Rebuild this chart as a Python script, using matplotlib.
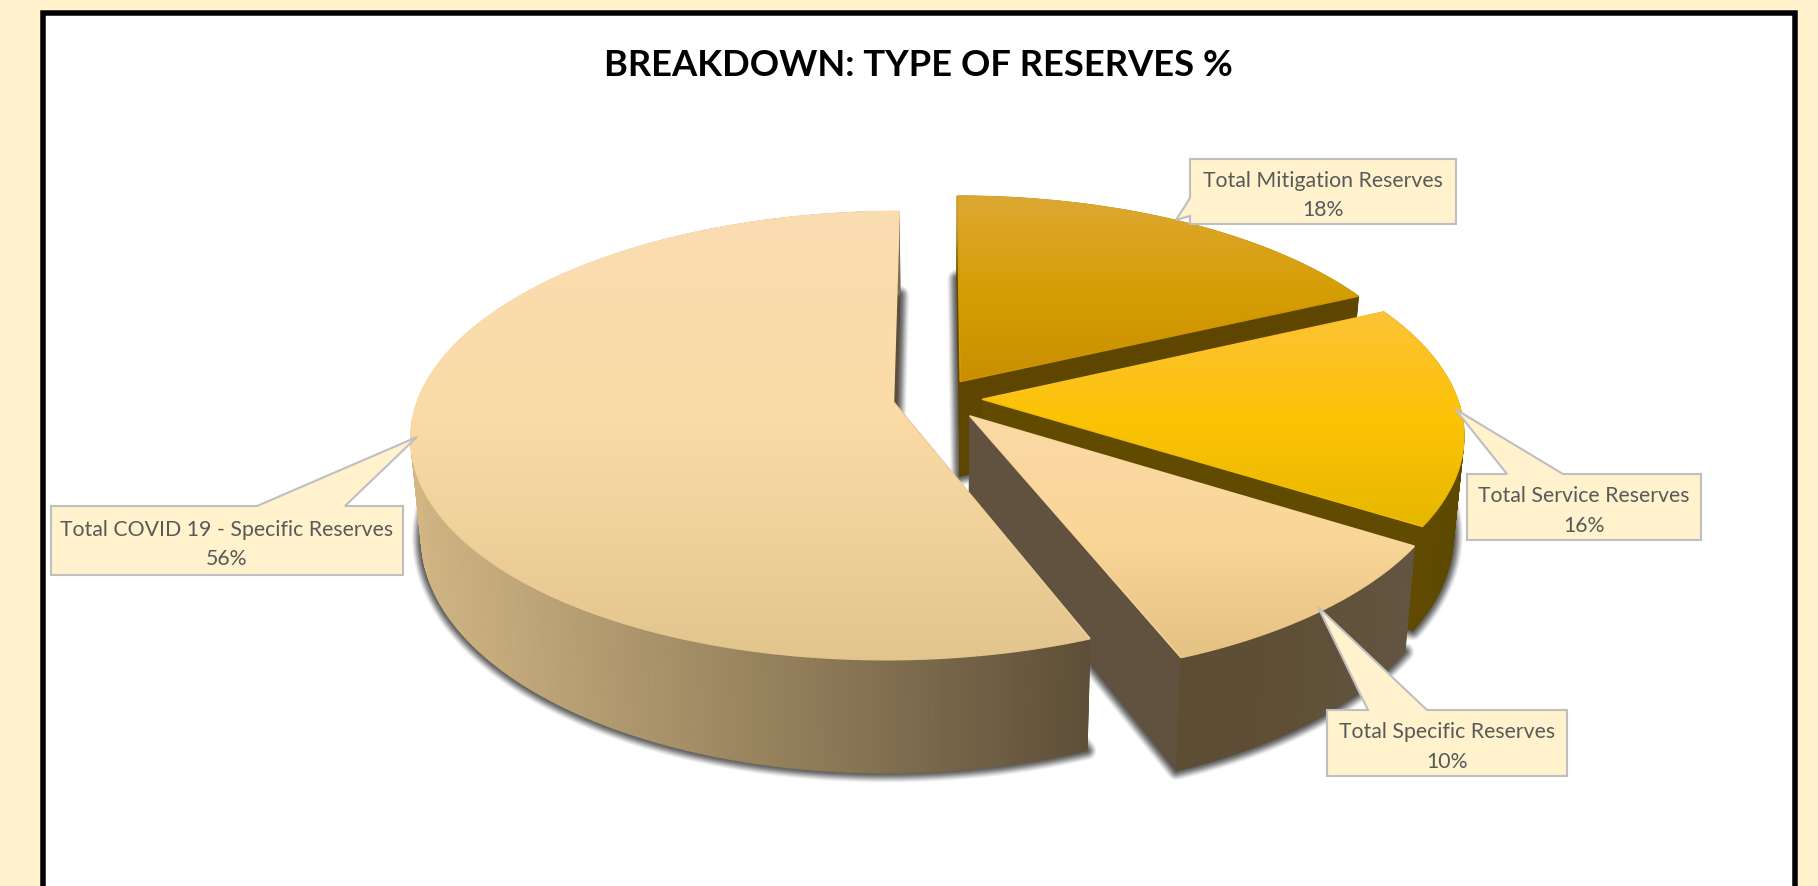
import numpy as np
import matplotlib
matplotlib.use("Agg")
import matplotlib.pyplot as plt
from matplotlib.collections import LineCollection, PolyCollection
from matplotlib.colors import LinearSegmentedColormap, to_rgb
from matplotlib.patches import Polygon, Rectangle

# ---- data ----
title = "BREAKDOWN: TYPE OF RESERVES %"
categories = ["Total Mitigation Reserves", "Total Service Reserves",
              "Total Specific Reserves", "Total COVID 19 - Specific Reserves"]
values = [18, 16, 10, 56]
percent_labels = ["18%", "16%", "10%", "56%"]

# ---- styles ----
top_stops = [["#DDA833", "#D69E05", "#C98F00"],
             ["#FDC236", "#FCC305", "#E6B700"],
             ["#FBD9A4", "#FAD699", "#E4C282"],
             ["#FBDDB2", "#FADAA4", "#E2C48D"]]
wall_stops = [["#5E4600", "#5E4600"],
              ["#604B00", "#5E4900"],
              ["#5C4D33", "#5E4F36", "#645541"],
              ["#D2B785", "#9A8560", "#5E4F38"]]
face_colors = ["#5E4600", "#604B00", "#615240", "#5E4F38"]
bg = "#FFF2CC"
# projection of the pie (pixels)
CX, CY, A, B, K, DEPTH, SHRINK = 937.5, 399, 475, 218, 0.15, 96, 0.98
explode = [0.09, 0.094, 0.105, 0.094]
callouts = [  # box (x0,y0,x1,y1), tip, pointer base
    ((1190, 160, 1456, 225), (1176, 221), "left", (199, 217)),
    ((1467, 475, 1701, 541), (1455, 410), "top", (1507, 1563)),
    ((1327, 711, 1567, 777), (1318, 608), "top", (1368, 1427)),
    ((51, 507, 403, 576), (417, 438), "top", (257, 345)),
]
FONT = "Lato"

fig = plt.figure(figsize=(18.18, 8.87), dpi=100, facecolor=bg)
ax = fig.add_axes([0, 0, 1, 1])
ax.set_xlim(0, 1818)
ax.set_ylim(887, 0)
ax.axis("off")

PX = 72 / 100
ax.add_patch(Rectangle((43, 14), 1752, 900, facecolor="white", edgecolor="black",
                       linewidth=5.5 * PX, zorder=1))


def project(X, Y, lower=False):
    w = 1 + K * Y
    x = A * X / w
    y = -B * Y / w
    if lower:
        x = x * SHRINK
        y = y + DEPTH / w
    return CX + x, CY + y


fracs = np.cumsum([0] + values) / np.sum(values)
slices = []
for i in range(len(values)):
    t0, t1 = 2 * np.pi * fracs[i], 2 * np.pi * fracs[i + 1]
    tm = (t0 + t1) / 2
    ox, oy = explode[i] * np.sin(tm), explode[i] * np.cos(tm)
    th = np.linspace(t0, t1, int(max(20, (t1 - t0) * 80)))
    X = ox + np.sin(th)
    Y = oy + np.cos(th)
    xt, yt = project(X, Y)
    xb, yb = project(X, Y, True)
    ax0, ay0 = project(np.array([ox]), np.array([oy]))
    bx0, by0 = project(np.array([ox]), np.array([oy]), True)
    slices.append(dict(xt=xt, yt=yt, xb=xb, yb=yb, a=(ax0[0], ay0[0]), b=(bx0[0], by0[0])))

# shadows: blurred outline of each slice's underside
for s in slices:
    poly = np.vstack([[s["b"]], np.column_stack([s["xb"], s["yb"]])])
    for lw, alpha in zip(np.arange(19, 1, -2), [.06, .09, .12, .15, .18, .22, .26, .3, .3]):
        ax.add_patch(Polygon(poly, closed=True, facecolor="#4a4a4a", edgecolor="#4a4a4a",
                             linewidth=lw * PX, alpha=alpha, joinstyle="round", zorder=2))


def ramp(stops, t):
    cols = np.array([to_rgb(c) for c in stops])
    pos = np.linspace(0, 1, len(stops))
    return [float(np.interp(t, pos, cols[:, j])) for j in range(3)]


for idx, s in enumerate(slices):
    z = 3 + idx
    stops = wall_stops[idx]
    # straight faces
    for end in (0, -1):
        q = [s["a"], (s["xt"][end], s["yt"][end]), (s["xb"][end], s["yb"][end]), s["b"]]
        c = face_colors[idx]
        ax.add_patch(Polygon(q, closed=True, facecolor=c, edgecolor=c, linewidth=0.5, zorder=z))
    # rim, coloured by horizontal position
    n = len(s["xt"]) - 1
    quads, cols = [], []
    xmin, xmax = s["xt"].min(), s["xt"].max()
    for j in range(n):
        quads.append([(s["xt"][j], s["yt"][j]), (s["xt"][j + 1], s["yt"][j + 1]),
                      (s["xb"][j + 1], s["yb"][j + 1]), (s["xb"][j], s["yb"][j])])
        f = (s["xt"][j] - xmin) / (xmax - xmin)
        cols.append(ramp(stops, np.clip(f, 0, 1)))
    ax.add_collection(PolyCollection(quads, facecolors=cols, edgecolors=cols, linewidths=0.6, zorder=z))
    # top face with vertical gradient
    pts = np.vstack([[s["a"]], np.column_stack([s["xt"], s["yt"]])])
    y0, y1 = pts[:, 1].min(), pts[:, 1].max()
    x0, x1 = pts[:, 0].min(), pts[:, 0].max()
    closed = np.vstack([pts, pts[:1]])
    segs = np.stack([closed[:-1], closed[1:]], axis=1)
    seg_cols = [ramp(top_stops[idx], (p[0, 1] + p[1, 1] - 2 * y0) / (2 * (y1 - y0))) for p in segs]
    clip = Polygon(pts, closed=True, transform=ax.transData, facecolor="none", edgecolor="none")
    ax.add_patch(clip)
    cmap = LinearSegmentedColormap.from_list(f"top{idx}", top_stops[idx])
    im = ax.imshow(np.linspace(0, 1, 256)[:, None], cmap=cmap, extent=(x0, x1, y1, y0),
                   aspect="auto", zorder=z + 0.1, interpolation="bilinear")
    im.set_clip_path(clip)
    ax.add_collection(LineCollection(segs, colors=seg_cols, linewidths=1.4 * PX, zorder=z + 0.2))

ax.set_xlim(0, 1818)
ax.set_ylim(887, 0)

# title
ax.text(918, 65, title, ha="center", va="center", fontsize=26.2, fontweight="bold",
        family=FONT, color="black", zorder=20)

# callouts
for (box, tip, side, base), name, pct in zip(callouts, categories, percent_labels):
    x0, y0, x1, y1 = box
    if side == "top":
        pts = [(x0, y0), (base[0], y0), tip, (base[1], y0), (x1, y0), (x1, y1), (x0, y1)]
    else:
        pts = [(x0, y0), (x1, y0), (x1, y1), (x0, y1), (x0, base[1]), tip, (x0, base[0])]
    ax.add_patch(Polygon(pts, closed=True, facecolor=bg, edgecolor="#BFBFBF",
                         linewidth=2.1 * PX, joinstyle="miter", zorder=21))
    ax.text((x0 + x1) / 2, (y0 + y1) / 2 + 3, f"{name}\n{pct}", ha="center", va="center",
            fontsize=15.3, family=FONT, color="#595959", linespacing=1.6, zorder=22)

fig.savefig("out.png", dpi=100, facecolor=bg)
